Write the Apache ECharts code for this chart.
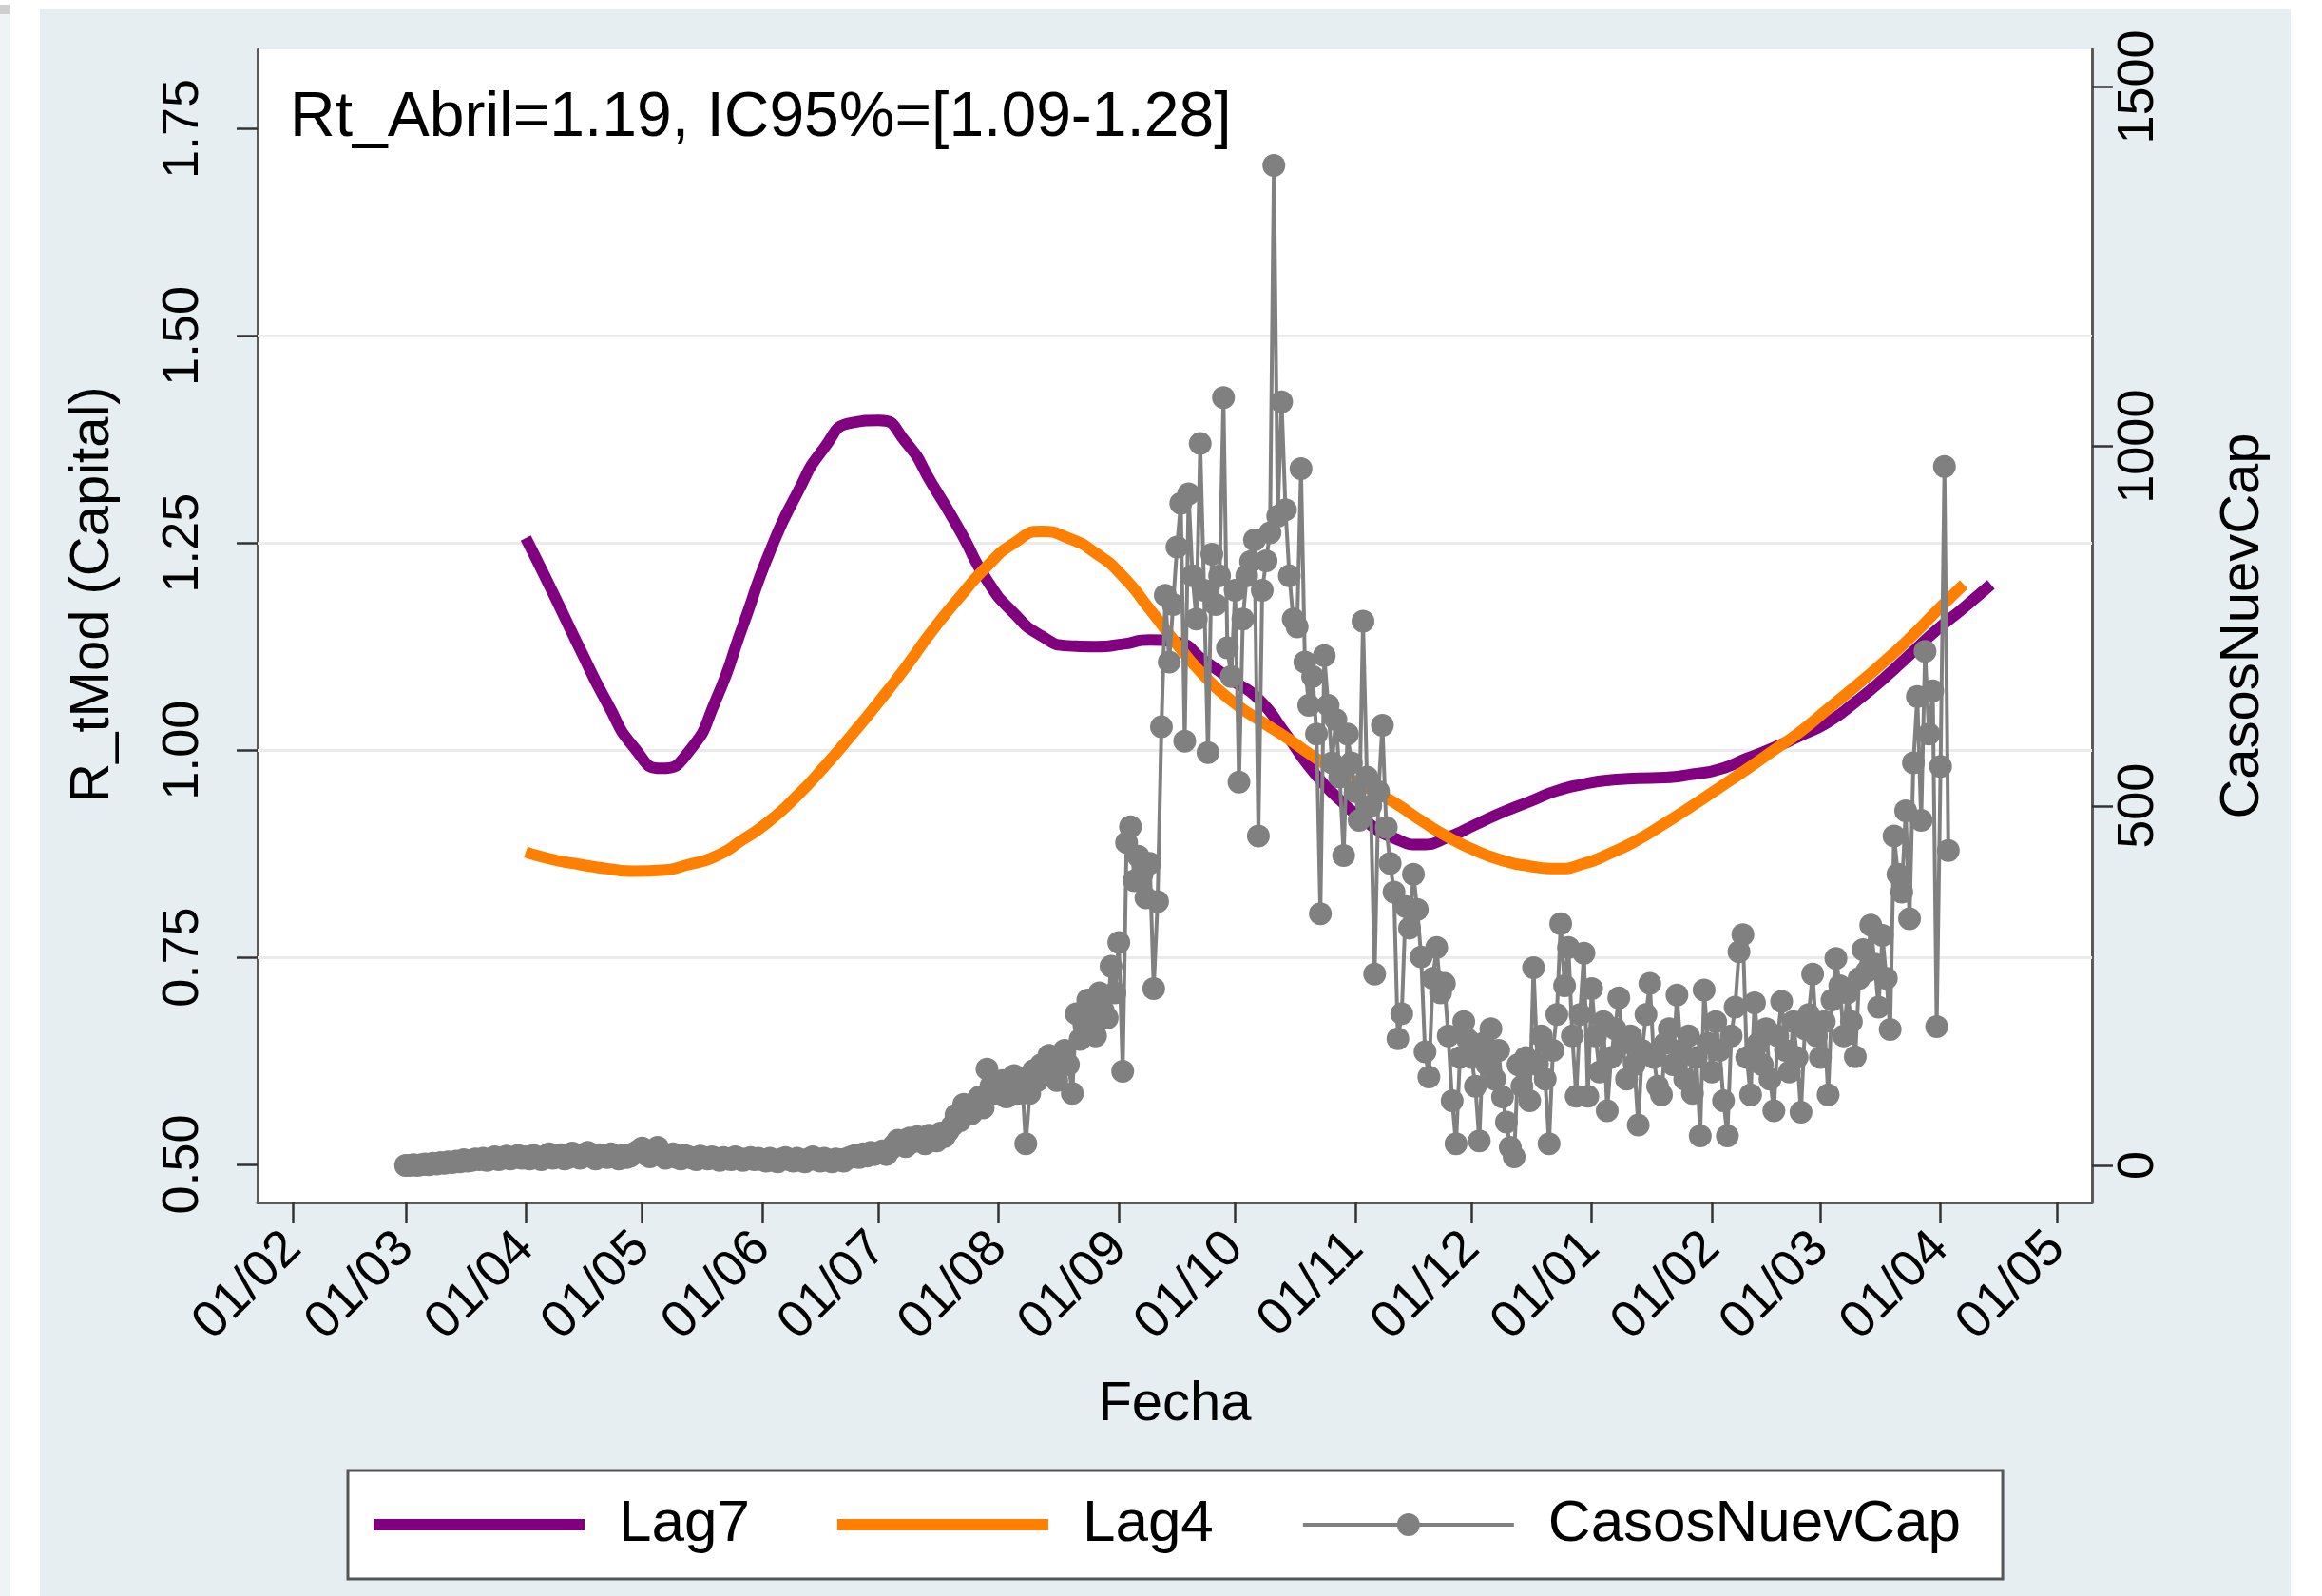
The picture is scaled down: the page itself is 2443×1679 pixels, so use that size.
<!DOCTYPE html>
<html>
<head>
<meta charset="utf-8">
<title>R_tMod (Capital)</title>
<script src="https://cdn.jsdelivr.net/npm/echarts@6.0.0/dist/echarts.min.js"></script>
<style>
	html, body { margin: 0; padding: 0; background: #ffffff; }
	#rtcapchart { width: 2443px; height: 1679px; }
</style>
</head>
<body>
<div id="rtcapchart"></div>
<script>
	// ticks
	var monthTicks = ['2020-02-01','2020-03-01','2020-04-01','2020-05-01','2020-06-01','2020-07-01','2020-08-01','2020-09-01',
		'2020-10-01','2020-11-01','2020-12-01','2021-01-01','2021-02-01','2021-03-01','2021-04-01','2021-05-01'];
	var leftTicks = [0.5, 0.75, 1, 1.25, 1.5, 1.75];
	var rightTicks = [0, 500, 1000, 1500];
	var gridLevels = [0.75, 1, 1.25, 1.5];

	// Lag7 (purple), read weekly from 01/04/2020
	var lag7Start = '2020-04-01';
	var lag7Values = [1.256,1.19,1.122,1.057,1.003,0.978,0.998,1.06,1.15,1.24,1.31,1.365,1.395,1.398,1.372,1.32,1.265,1.205,
		1.165,1.138,1.126,1.125,1.128,1.133,1.13,1.108,1.085,1.062,1.02,0.975,0.94,0.913,0.894,0.886,0.895,0.91,0.925,0.938,
		0.951,0.959,0.964,0.966,0.967,0.971,0.977,0.99,1.003,1.018,1.034,1.058,1.085,1.115,1.145,1.172,1.20];

	// Lag4 (orange), read weekly from 01/04/2020
	var lag4Start = '2020-04-01';
	var lag4Values = [0.877,0.868,0.862,0.857,0.854,0.855,0.862,0.872,0.892,0.915,0.945,0.98,1.018,1.058,1.10,1.145,1.185,
		1.222,1.25,1.264,1.256,1.238,1.21,1.17,1.128,1.09,1.06,1.037,1.016,0.993,0.972,0.955,0.937,0.915,0.895,0.879,0.867,
		0.86,0.857,0.863,0.876,0.892,0.912,0.933,0.955,0.977,1.0,1.023,1.05,1.077,1.105,1.135,1.168,1.20];
	var lagStepDays = 7;

	// CasosNuevCap, one array per month, one value per day
	var casosMonths = ['2020-03','2020-04','2020-05','2020-06','2020-07','2020-08','2020-09','2020-10','2020-11','2020-12',
		'2021-01','2021-02','2021-03','2021-04'];
	var casosMar20 = [0,0,1,0,1,2,1,3,2,4,3,5,4,6,5,8,6,7,9,8,10,7,9,12,8,10,13,9,11,14,10];
	var casosApr20 = [12,9,14,11,8,13,16,10,12,15,9,11,17,13,10,14,18,12,9,15,13,11,16,12,9,14,11,13,17,20];
	var casosMay20 = [24,15,12,18,25,14,10,13,16,11,9,14,12,10,8,13,11,9,12,10,7,11,9,8,12,10,7,9,11,8,10];
	var casosJun20 = [8,6,10,7,5,9,11,8,6,10,7,5,9,12,8,6,10,7,5,9,8,6,10,12,14,11,16,13,18,15];
	var casosJul20 = [17,20,15,22,28,35,30,26,38,33,40,36,30,42,38,34,45,40,48,55,70,62,85,78,72,88,95,80,134,110,100];
	var casosAug20 = [105,118,95,112,125,100,120,30,100,132,118,140,126,153,130,118,148,160,140,100,211,175,195,230,210,180,240,215,205,277,240];
	var casosSep20 = [310,131,449,471,396,430,405,372,420,246,367,610,793,700,780,860,921,590,934,820,760,1004,800,574,850,780,820,1068,720,680];
	var casosOct20 = [800,533,760,820,840,870,458,800,841,880,1391,903,1062,912,820,760,749,969,700,640,680,600,350,709,640,560,620,540,431,600,560];
	var casosNov20 = [520,480,757,540,500,266,520,612,470,420,380,176,211,360,330,405,356,290,158,123,260,303,240,253,180,90,30,150,200,175];
	var casosDec20 = [150,110,34,170,140,190,120,160,95,60,25,12,140,110,150,90,275,140,180,120,30,160,210,336,250,303,180,96,210,295,96];
	var casosJan21 = [246,180,130,200,76,150,190,233,170,120,180,140,56,160,210,253,150,110,98,170,190,140,237,160,120,180,100,150,41,244,170];
	var casosFeb21 = [130,200,160,90,41,180,220,297,321,150,98,226,170,140,190,120,76,180,228,160,130,200,150,74,190,210,266,180];
	var casosMar21 = [150,200,98,230,288,250,180,240,200,151,260,300,270,334,280,220,320,260,189,458,405,380,493,343,560,652,480,715,600,660,193];
	var casosApr21 = [555,972,438];

	var casosByMonthList = [casosMar20,casosApr20,casosMay20,casosJun20,casosJul20,casosAug20,casosSep20,casosOct20,
		casosNov20,casosDec20,casosJan21,casosFeb21,casosMar21,casosApr21];

	// x axis counts days from 01/02/2020
	var dayZero = Date.UTC(2020, 1, 1);
	function pad2(n){
		return (n < 10 ? '0' : '') + n;
	}
	function daynum(str){
		var p = str.split('-');
		return (Date.UTC(+p[0], +p[1] - 1, +p[2]) - dayZero) / 86400000;
	}
	function daylabel(v){
		var d = new Date(dayZero + Math.round(v) * 86400000);
		return pad2(d.getUTCDate()) + '/' + pad2(d.getUTCMonth() + 1);
	}
	function makeweekly(start, values){
		var out = [];
		var d0 = daynum(start);
		for(var i = 0; i < values.length; i++){
			out.push([d0 + i * lagStepDays, values[i]]);
		}
		return out;
	}
	function makecasos(){
		var out = [];
		for(var m = 0; m < casosMonths.length; m++){
			var vals = casosByMonthList[m];
			for(var i = 0; i < vals.length; i++){
				out.push([daynum(casosMonths[m] + '-' + pad2(i + 1)), vals[i]]);
			}
		}
		return out;
	}
	var monthTickDays = monthTicks.map(daynum);

	var fontfam = '"Liberation Sans", Arial, sans-serif';
	var purple = '#800080';
	var orange = '#ff7f00';
	var gray = '#808080';
	var axiscolor = '#5a5a5a';
	var barIcon = 'path://M0,0M0,30M0,9L222,9L222,21L0,21Z';

	var mychart = echarts.init(document.getElementById('rtcapchart'));
	var myoption = {
		animation: false,
		backgroundColor: '#ffffff',
		textStyle: { fontFamily: fontfam },
		graphic: [
			{ type: 'rect', z: -1, shape: { x: 42, y: 9, width: 2368, height: 1670 }, style: { fill: '#e6eef2' } },
			{ type: 'rect', z: -1, shape: { x: 0, y: 15, width: 10, height: 1664 }, style: { fill: '#eef3f6' } },
			{ type: 'rect', z: -1, shape: { x: 0, y: 5, width: 10, height: 10 }, style: { fill: '#cfcfcf' } },
			{ type: 'text', z: 10, x: 305, y: 125,
				style: { text: 'Rt_Abril=1.19, IC95%=[1.09-1.28]', font: '66px ' + fontfam, fill: '#000', verticalAlign: 'middle' } }
		],
		grid: {
			left: 271, right: 242, top: 52, bottom: 414,
			show: true, backgroundColor: '#ffffff', borderWidth: 0,
			containLabel: false, outerBoundsMode: 'none'
		},
		legend: {
			data: [
				{ name: 'Lag7', icon: barIcon },
				{ name: 'Lag4', icon: barIcon },
				{ name: 'CasosNuevCap' }
			],
			left: 366, top: 1547,
			orient: 'horizontal',
			itemWidth: 222, itemHeight: 30, itemGap: 92,
			padding: [26, 44, 26, 27],
			backgroundColor: '#ffffff', borderColor: '#555555', borderWidth: 3,
			selectedMode: false,
			lineStyle: { width: 'inherit' },
			textStyle: { fontSize: 62, color: '#000', fontFamily: fontfam, padding: [0, 0, 0, 31] }
		},
		xAxis: {
			type: 'value',
			min: -9.196, max: 464.07,
			name: 'Fecha', nameLocation: 'middle', nameGap: 184,
			nameTextStyle: { fontSize: 58, color: '#000', fontFamily: fontfam },
			axisLine: { show: true, onZero: false, lineStyle: { color: axiscolor, width: 3 } },
			axisTick: { show: true, customValues: monthTickDays, length: 22, lineStyle: { color: '#333', width: 2.5 } },
			axisLabel: {
				customValues: monthTickDays, rotate: 45, margin: 40, fontSize: 54, color: '#000',
				hideOverlap: false, showMinLabel: true, showMaxLabel: true,
				formatter: function(value){ return daylabel(value); }
			},
			splitLine: { show: false }
		},
		yAxis: [
			{
				type: 'value', position: 'left',
				min: 0.4541, max: 1.8458,
				name: 'R_tMod (Capital)', nameLocation: 'middle', nameRotate: 90, nameGap: 144,
				nameTextStyle: { fontSize: 58, color: '#000', fontFamily: fontfam, padding: [0, 0, 0, 66] },
				axisLine: { show: true, onZero: false, lineStyle: { color: axiscolor, width: 3 } },
				axisTick: { show: true, customValues: leftTicks, length: 22, lineStyle: { color: '#333', width: 2.5 } },
				axisLabel: {
					customValues: leftTicks, rotate: 90, margin: 51, fontSize: 54, color: '#000',
					formatter: function(v){ return Number(v).toFixed(2); }
				},
				splitLine: { show: false }
			},
			{
				type: 'value', position: 'right',
				min: -51.6, max: 1552.2,
				name: 'CasosNuevCap', nameLocation: 'middle', nameRotate: 90, nameGap: 130,
				nameTextStyle: { fontSize: 58, color: '#000', fontFamily: fontfam },
				axisLine: { show: true, onZero: false, lineStyle: { color: axiscolor, width: 3 } },
				axisTick: { show: true, customValues: rightTicks, length: 22, lineStyle: { color: '#333', width: 2.5 } },
				axisLabel: {
					customValues: rightTicks, rotate: 90, margin: 22, fontSize: 54, color: '#000',
					formatter: function(v){ return String(Math.round(v)); }
				},
				splitLine: { show: false }
			}
		],
		series: [
			{
				name: 'Lag7', type: 'line', yAxisIndex: 0,
				data: makeweekly(lag7Start, lag7Values),
				smooth: 0.6, symbol: 'none',
				lineStyle: { color: purple, width: 12 },
				itemStyle: { color: purple },
				markLine: {
					z: 1, silent: true, symbol: ['none', 'none'],
					label: { show: false },
					lineStyle: { color: '#ebebeb', width: 3, type: 'solid' },
					data: gridLevels.map(function(v){ return { yAxis: v }; })
				}
			},
			{
				name: 'Lag4', type: 'line', yAxisIndex: 0,
				data: makeweekly(lag4Start, lag4Values),
				smooth: 0.6, symbol: 'none',
				lineStyle: { color: orange, width: 12 },
				itemStyle: { color: orange }
			},
			{
				name: 'CasosNuevCap', type: 'line', yAxisIndex: 1,
				data: makecasos(),
				symbol: 'circle', symbolSize: 24, showSymbol: true, showAllSymbol: true,
				lineStyle: { color: gray, width: 4 },
				itemStyle: { color: gray }
			}
		]
	};
	mychart.setOption(myoption);
</script>
</body>
</html>
